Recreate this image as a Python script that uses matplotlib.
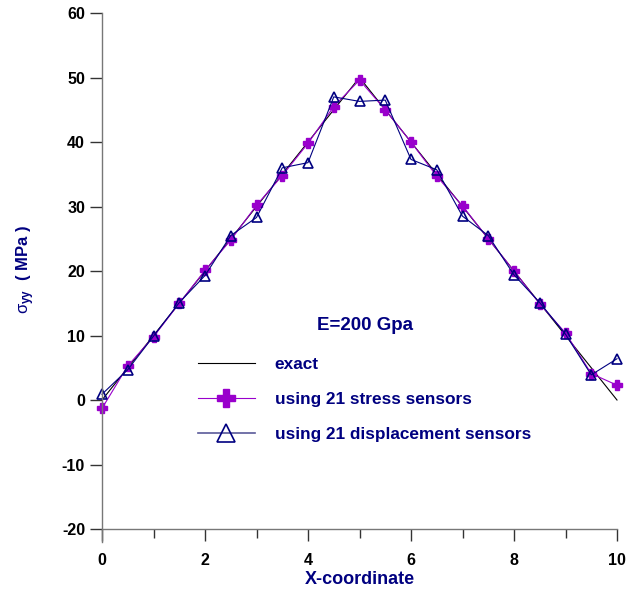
import numpy as np
import matplotlib.pyplot as plt
from matplotlib.lines import Line2D

plt.rcParams['font.family'] = ['Liberation Sans', 'DejaVu Sans']
plt.rcParams['axes.unicode_minus'] = False
plt.rcParams['mathtext.fontset'] = 'custom'
plt.rcParams['mathtext.rm'] = 'Liberation Sans'
plt.rcParams['mathtext.it'] = 'Liberation Sans'
plt.rcParams['mathtext.bf'] = 'Liberation Sans:bold'

# --- data ---
x = np.arange(0, 10.01, 0.5)
x_exact = [0, 5, 10]
y_exact = [0, 50, 0]
y_stress = [-1.3, 5.3, 9.8, 15.0, 20.1, 24.8, 30.2, 34.8, 39.8, 45.5, 49.6,
            45.0, 40.0, 34.7, 30.1, 25.0, 20.0, 14.9, 10.4, 4.1, 2.3]
y_disp = [0.9, 4.7, 9.9, 15.1, 19.3, 25.5, 28.3, 36.0, 36.8, 47.0, 46.3,
          46.5, 37.3, 35.7, 28.5, 25.5, 19.4, 15.1, 10.2, 3.9, 6.4]

navy = '#000080'
purple = '#9900CC'

fig = plt.figure(figsize=(6.35, 5.92), dpi=100)
ax = fig.add_axes([102 / 635, 0.0846, 515 / 635, 0.8934])

ax.plot(x_exact, y_exact, color='black', lw=0.8, clip_on=False)
ax.plot(x, y_stress, color=purple, lw=0.8, marker='P', ms=7.5,
        mec=purple, mfc=purple, clip_on=False)
ax.plot(x, y_disp, color=navy, lw=0.8, marker='^', ms=7, mfc='none',
        mec=navy, mew=1.2, clip_on=False)

ax.set_xlim(0, 10)
ax.set_ylim(-22, 60)
ax.set_xticks([0, 2, 4, 6, 8, 10])
ax.set_xticks([1, 3, 5, 7, 9], minor=True)
ax.set_yticks(np.arange(-20, 61, 10))

for s in ['top', 'right']:
    ax.spines[s].set_visible(False)
ax.spines['bottom'].set_position(('data', -20))
for s in ['left', 'bottom']:
    ax.spines[s].set_color('#777777')
    ax.spines[s].set_linewidth(1.0)

ax.tick_params(axis='y', which='major', length=8.6, width=1.0,
               color='#333333', pad=3.6, labelsize=11.5)
ax.tick_params(axis='x', which='major', length=8.6, width=1.0,
               color='#333333', pad=9, labelsize=11.5)
ax.tick_params(axis='x', which='minor', length=6.5, width=1.0,
               color='#333333')
for lab in ax.get_xticklabels() + ax.get_yticklabels():
    lab.set_fontweight('bold')

ax.set_xlabel('X-coordinate', fontsize=13, fontweight='bold', color=navy)
ax.xaxis.set_label_coords(0.5, -0.055)
ax.set_ylabel(r'$\mathrm{\sigma}_{\mathbf{yy}}$  ( MPa )', fontsize=12,
              fontweight='bold', color=navy)
ax.yaxis.set_label_coords(-0.126, 0.514)

ax.text(0.51, 0.41, 'E=200 Gpa', transform=ax.transAxes, ha='center',
        va='center', fontsize=13.5, fontweight='bold', color=navy)

handles = [
    Line2D([], [], color='black', lw=0.8),
    Line2D([], [], color=purple, lw=0.8, marker='P', ms=7.5, mfc=purple,
           mec=purple),
    Line2D([], [], color='#5a5a9a', lw=1.2, marker='^', ms=7, mfc='none',
           mec=navy, mew=1.2),
]
labels = ['exact', 'using 21 stress sensors',
          'using 21 displacement sensors']
leg = ax.legend(handles, labels, loc='upper left',
                bbox_to_anchor=(191 / 635, 1 - 350 / 592),
                bbox_transform=fig.transFigure, frameon=False,
                prop={'size': 12.4, 'weight': 'bold'}, handlelength=3.3,
                handletextpad=1.16, labelspacing=1.15, markerscale=1.8,
                borderaxespad=0)
for t in leg.get_texts():
    t.set_color(navy)

fig.savefig('out.png', dpi=100)
